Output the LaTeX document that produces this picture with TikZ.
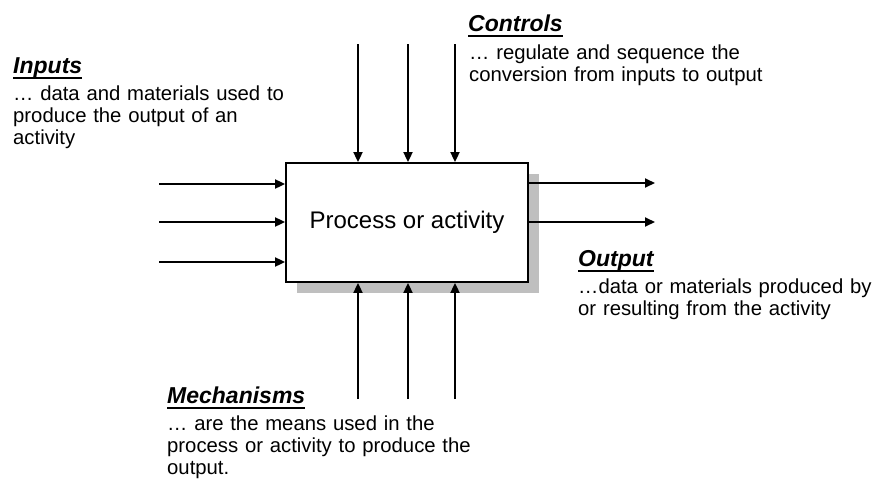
\documentclass[tikz,border=0pt]{standalone}
\usepackage{fontspec}
\setmainfont{Liberation Sans}
\usetikzlibrary{arrows.meta,shadows}

\tikzset{
  flow/.style={line width=1.8pt, -{Triangle[length=10pt,width=9pt]}},
  procbox/.style={draw, line width=1.8pt, fill=white, minimum width=242pt,
    minimum height=119pt, inner sep=0pt,
    font=\fontsize{24}{26}\selectfont,
    drop shadow={shadow xshift=11pt, shadow yshift=-11pt, fill=black!25, opacity=1}},
  heading/.style={anchor=base west, inner sep=0pt,
    font=\fontsize{23}{23}\selectfont\bfseries\itshape},
  body/.style={anchor=base west, inner sep=0pt, text width=420pt, align=left,
    font=\fontsize{20.3}{22}\selectfont},
  rule/.style={line width=1.8pt}
}

\begin{document}
\begin{tikzpicture}[x=1pt, y=-1pt]
  \useasboundingbox (0,0) rectangle (885,482);

  % central activity box
  \node[procbox] (proc) at (407,222.5) {Process or activity};

  % free ends of the connectors
  \coordinate (in1) at (159,184);
  \coordinate (in2) at (159,222);
  \coordinate (in3) at (159,262);
  \coordinate (out1) at (655,183);
  \coordinate (out2) at (655,222);
  \coordinate (ctl1) at (358,44);
  \coordinate (ctl2) at (408,44);
  \coordinate (ctl3) at (455,44);
  \coordinate (mec1) at (358,399);
  \coordinate (mec2) at (408,399);
  \coordinate (mec3) at (455,399);

  % inputs enter from the left
  \draw[flow] (in1) -- (in1 -| proc.west);
  \draw[flow] (in2) -- (in2 -| proc.west);
  \draw[flow] (in3) -- (in3 -| proc.west);

  % outputs leave to the right
  \draw[flow] (out1 -| proc.east) -- (out1);
  \draw[flow] (out2 -| proc.east) -- (out2);

  % controls come in from the top
  \draw[flow] (ctl1) -- (ctl1 |- proc.north);
  \draw[flow] (ctl2) -- (ctl2 |- proc.north);
  \draw[flow] (ctl3) -- (ctl3 |- proc.north);

  % mechanisms come in from the bottom
  \draw[flow] (mec1) -- (mec1 |- proc.south);
  \draw[flow] (mec2) -- (mec2 |- proc.south);
  \draw[flow] (mec3) -- (mec3 |- proc.south);

  % labels
  \node[heading] (hin) at (13,73) {Inputs};
  \draw[rule] ([yshift=-5pt]hin.base west) -- ([yshift=-5pt]hin.base east);
  \node[body] (tin) at (13,100) {… data and materials used to\\produce the output of an\\activity};

  \node[heading] (hctl) at (468,31) {Controls};
  \draw[rule] ([yshift=-5pt]hctl.base west) -- ([yshift=-5pt]hctl.base east);
  \node[body] (tctl) at (469,59) {… regulate and sequence the\\conversion from inputs to output};

  \node[heading] (hout) at (578,266) {Output};
  \draw[rule] ([yshift=-5pt]hout.base west) -- ([yshift=-5pt]hout.base east);
  \node[body] (tout) at (578,293) {…data or materials produced by\\or resulting from the activity};

  \node[heading] (hmec) at (167,403) {Mechanisms};
  \draw[rule] ([yshift=-5pt]hmec.base west) -- ([yshift=-5pt]hmec.base east);
  \node[body] (tmec) at (167,430) {… are the means used in the\\process or activity to produce the\\output.};
\end{tikzpicture}
\end{document}
